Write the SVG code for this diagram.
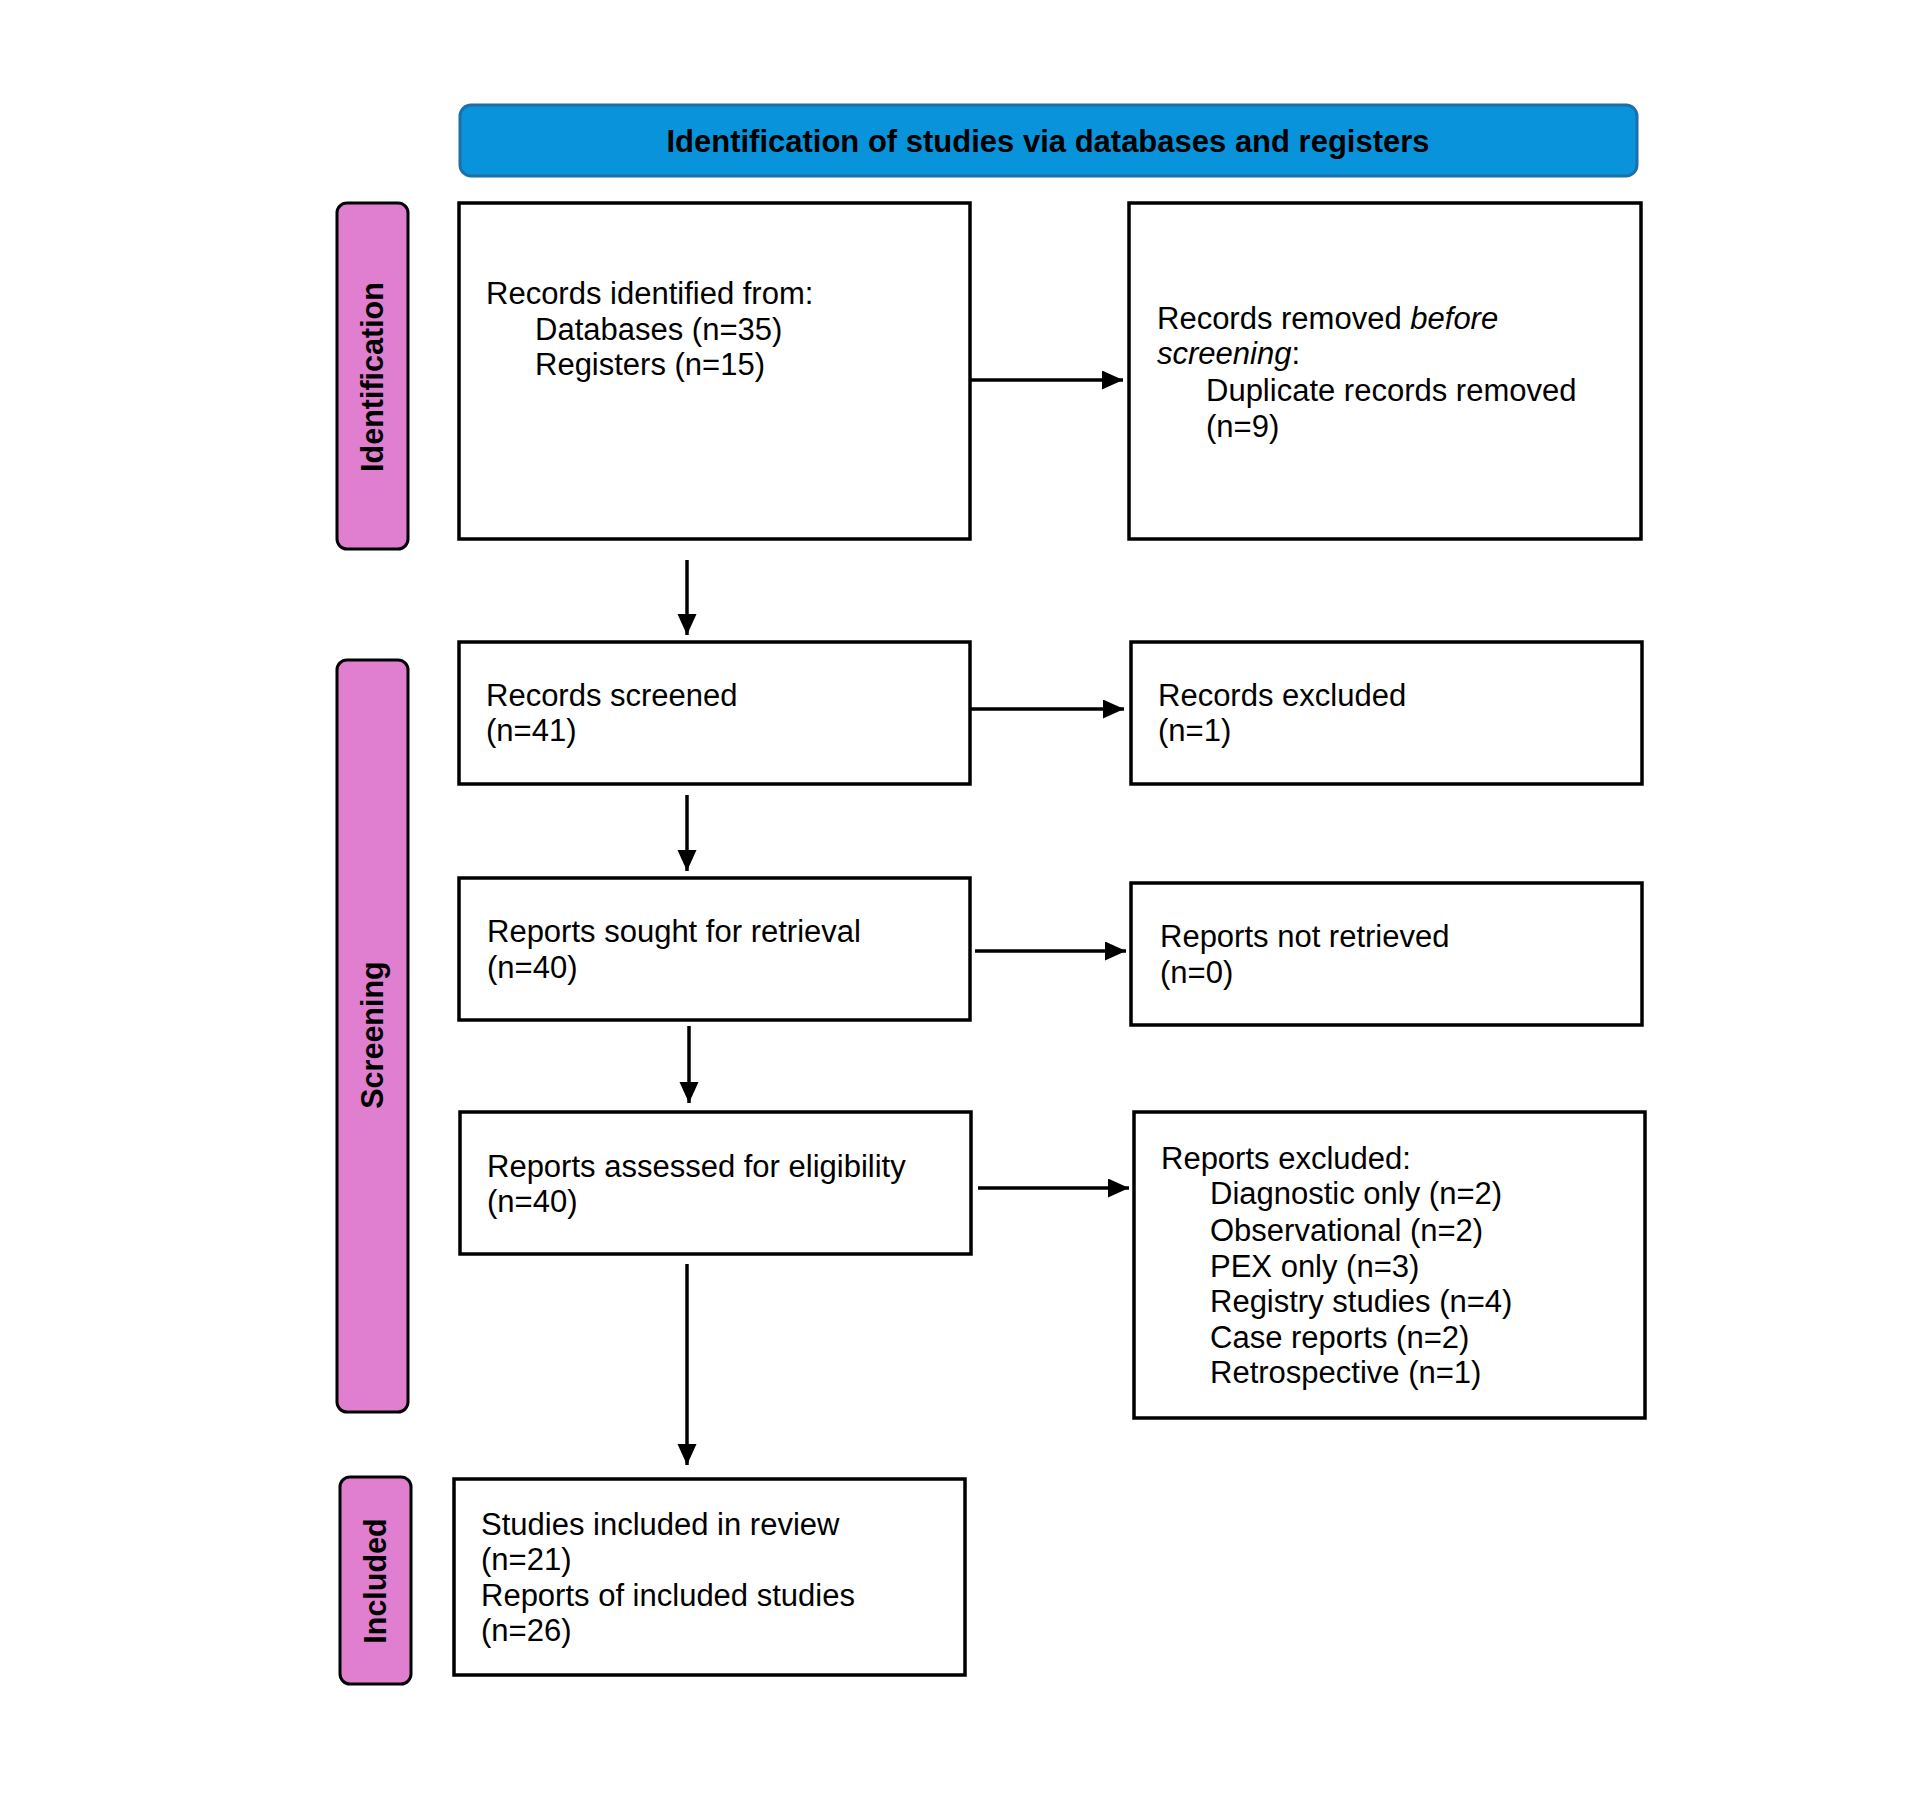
<svg xmlns="http://www.w3.org/2000/svg" width="1920" height="1800" viewBox="0 0 1920 1800">
<style>
.box{fill:#fff;stroke:#000;stroke-width:3.5}
.side{fill:#e07fd0;stroke:#000;stroke-width:3}
.t{font-family:"Liberation Sans",Arial,sans-serif;font-size:31px;fill:#000}
.sl{font-family:"Liberation Sans",Arial,sans-serif;font-size:30.5px;font-weight:bold;fill:#000;text-anchor:middle}
.conn{stroke:#000;stroke-width:3.5;fill:none;marker-end:url(#ah)}
</style>
<defs>
<marker id="ah" markerUnits="userSpaceOnUse" markerWidth="22" markerHeight="20" refX="21" refY="9.5" orient="auto">
<path d="M0,0 L21,9.5 L0,19 z" fill="#000"/>
</marker>
</defs>
<rect width="1920" height="1800" fill="#fff"/>

<g id="header">
<rect x="460" y="105" width="1177" height="71" rx="11" fill="#0893db" stroke="#1d6fa8" stroke-width="3"/>
<text x="1048" y="152" class="sl" style="font-size:31px">Identification of studies via databases and registers</text>
</g>

<g id="lane-identification">
<rect class="side" x="337" y="203" width="71" height="346" rx="10"/>
<text class="sl" transform="translate(383,377) rotate(-90)">Identification</text>
</g>
<g id="lane-screening">
<rect class="side" x="337" y="660" width="71" height="752" rx="10"/>
<text class="sl" transform="translate(383,1035) rotate(-90)">Screening</text>
</g>
<g id="lane-included">
<rect class="side" x="340" y="1477" width="71" height="207" rx="10"/>
<text class="sl" transform="translate(386,1581) rotate(-90)">Included</text>
</g>

<g id="records-identified">
<rect class="box" x="459" y="203" width="511" height="336"/>
<text class="t" x="486" y="304">Records identified from:</text>
<text class="t" x="535" y="340">Databases (n=35)</text>
<text class="t" x="535" y="375">Registers (n=15)</text>
</g>
<g id="records-removed">
<rect class="box" x="1129" y="203" width="512" height="336"/>
<text class="t" x="1157" y="329">Records removed <tspan font-style="italic">before</tspan></text>
<text class="t" x="1157" y="364"><tspan font-style="italic">screening</tspan>:</text>
<text class="t" x="1206" y="401">Duplicate records removed</text>
<text class="t" x="1206" y="437">(n=9)</text>
</g>
<g id="records-screened">
<rect class="box" x="459" y="642" width="511" height="142"/>
<text class="t" x="486" y="706">Records screened</text>
<text class="t" x="486" y="741">(n=41)</text>
</g>
<g id="records-excluded">
<rect class="box" x="1131" y="642" width="511" height="142"/>
<text class="t" x="1158" y="706">Records excluded</text>
<text class="t" x="1158" y="741">(n=1)</text>
</g>
<g id="reports-sought">
<rect class="box" x="459" y="878" width="511" height="142"/>
<text class="t" x="487" y="942">Reports sought for retrieval</text>
<text class="t" x="487" y="978">(n=40)</text>
</g>
<g id="reports-not-retrieved">
<rect class="box" x="1131" y="883" width="511" height="142"/>
<text class="t" x="1160" y="947">Reports not retrieved</text>
<text class="t" x="1160" y="983">(n=0)</text>
</g>
<g id="reports-assessed">
<rect class="box" x="460" y="1112" width="511" height="142"/>
<text class="t" x="487" y="1177">Reports assessed for eligibility</text>
<text class="t" x="487" y="1212">(n=40)</text>
</g>
<g id="reports-excluded">
<rect class="box" x="1134" y="1112" width="511" height="306"/>
<text class="t" x="1161" y="1169">Reports excluded:</text>
<text class="t" x="1210" y="1204">Diagnostic only (n=2)</text>
<text class="t" x="1210" y="1241">Observational (n=2)</text>
<text class="t" x="1210" y="1277">PEX only (n=3)</text>
<text class="t" x="1210" y="1312">Registry studies (n=4)</text>
<text class="t" x="1210" y="1348">Case reports (n=2)</text>
<text class="t" x="1210" y="1383">Retrospective (n=1)</text>
</g>
<g id="studies-included">
<rect class="box" x="454" y="1479" width="511" height="196"/>
<text class="t" x="481" y="1535">Studies included in review</text>
<text class="t" x="481" y="1570">(n=21)</text>
<text class="t" x="481" y="1606">Reports of included studies</text>
<text class="t" x="481" y="1641">(n=26)</text>
</g>

<g id="connectors">
<line class="conn" x1="687" y1="560" x2="687" y2="635"/>
<line class="conn" x1="687" y1="795" x2="687" y2="871"/>
<line class="conn" x1="689" y1="1026" x2="689" y2="1103"/>
<line class="conn" x1="687" y1="1264" x2="687" y2="1465"/>
<line class="conn" x1="971" y1="380" x2="1123" y2="380"/>
<line class="conn" x1="971" y1="709" x2="1124" y2="709"/>
<line class="conn" x1="975" y1="951" x2="1126" y2="951"/>
<line class="conn" x1="978" y1="1188" x2="1129" y2="1188"/>
</g>
</svg>
